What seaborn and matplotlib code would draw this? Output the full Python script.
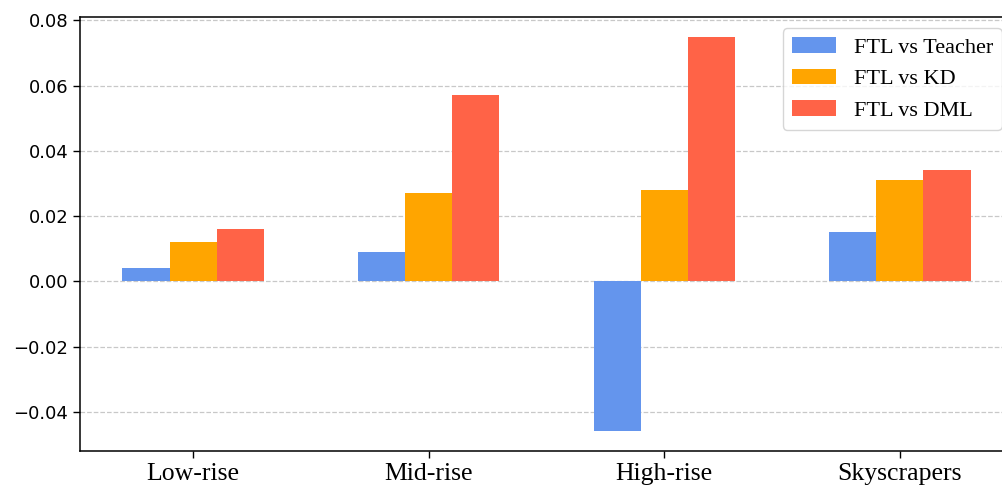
import matplotlib
matplotlib.use("Agg")
import matplotlib.pyplot as plt
import seaborn as sns
import pandas as pd

categories = ["Low-rise", "Mid-rise", "High-rise", "Skyscrapers"]
series_names = ["FTL vs Teacher", "FTL vs KD", "FTL vs DML"]
vs_teacher = [0.004, 0.009, -0.046, 0.015]
vs_kd = [0.012, 0.027, 0.028, 0.031]
vs_dml = [0.016, 0.057, 0.075, 0.034]
colors = ["#6495ED", "#FFA500", "#FF6347"]

rows = []
for name, vals in zip(series_names, [vs_teacher, vs_kd, vs_dml]):
    for cat, v in zip(categories, vals):
        rows.append({"category": cat, "series": name, "value": v})
df = pd.DataFrame(rows)

sns.set_style("ticks")
plt.rcParams["text.color"] = "black"
fig = plt.figure(figsize=(10.03, 4.86), dpi=100)
# the axes run slightly past the right edge of the canvas
ax = fig.add_axes([80 / 1003, 35 / 486, 933 / 1003, 434 / 486])

sns.barplot(data=df, x="category", y="value", hue="series",
            order=categories, hue_order=series_names,
            palette=colors, width=0.6, ax=ax, saturation=1.0,
            errorbar=None, linewidth=0)

ax.set_xlim(-0.48, 3.48)
ax.set_ylim(-0.052, 0.081)
ax.set_yticks([-0.04, -0.02, 0.0, 0.02, 0.04, 0.06, 0.08])
ax.set_yticklabels([f"{t:.2f}".replace("-", "\u2212") for t in ax.get_yticks()],
                   fontsize=13, family="DejaVu Sans")
ax.set_xticks(range(len(categories)))
ax.set_xticklabels(categories, fontsize=18.5, family="Liberation Serif")
ax.set_xlabel("")
ax.set_ylabel("")
ax.grid(axis="y", linestyle="--", color="#c8c8c8", linewidth=0.9)
ax.set_axisbelow(True)
for sp in ax.spines.values():
    sp.set_visible(True)
    sp.set_linewidth(1.1)
    sp.set_color("black")
ax.tick_params(axis="both", direction="out", length=5, width=1, colors="black")

leg = ax.legend(loc="upper right", prop={"family": "Liberation Serif", "size": 16},
                frameon=True, fancybox=True, framealpha=0.8, edgecolor="#cccccc",
                handlelength=2.0, borderaxespad=0.5, labelcolor="black")

fig.savefig("out.png", dpi=100)
